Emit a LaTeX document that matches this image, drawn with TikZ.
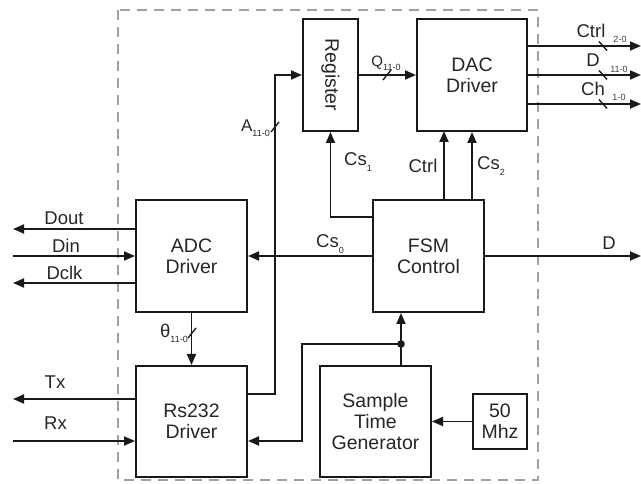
\documentclass[tikz,border=0pt]{standalone}
\usepackage{fontspec}
\setmainfont{Liberation Sans}
\usetikzlibrary{arrows.meta}
\definecolor{bordergray}{RGB}{155,163,170}
\newcommand\sbs[1]{\raisebox{-0.28em}{\fontsize{9}{9}\selectfont #1}}
\begin{document}
\begin{tikzpicture}[x=1pt,y=-1pt,
  blk/.style={draw=black!90, line width=2pt, inner sep=0pt, align=center,
    font=\fontsize{19.5}{21}\selectfont, text=black!85},
  arr/.style={line width=1.9pt, draw=black!90, -{Triangle[length=11pt,width=9pt]}},
  ln/.style={line width=1.9pt, draw=black!90},
  tick/.style={line width=1.4pt, draw=black!90},
  lab/.style={font=\fontsize{18.5}{20}\selectfont, text=black!85, inner sep=0pt},
  sub/.style={font=\fontsize{9}{10}\selectfont, text=black!75, inner sep=0pt},
  ]
\useasboundingbox (0,0) rectangle (641,484);
\draw[bordergray, line width=1.8pt, dash pattern=on 10pt off 7pt] (118,10) rectangle (538,480);

% blocks
\node[blk, minimum width=55pt, minimum height=112pt] (reg) at (330.5,75) {};
\node[lab, rotate=-90, font=\fontsize{19.5}{21}\selectfont] (regt) at (reg.center) {Register};
\node[blk, minimum width=110pt, minimum height=112pt] (dac) at (472,75) {DAC\\Driver};
\node[blk, minimum width=111pt, minimum height=112pt] (adc) at (191.5,256) {ADC\\Driver};
\node[blk, minimum width=111pt, minimum height=111pt] (rs) at (191.5,421.5) {Rs232\\Driver};
\node[blk, minimum width=111pt, minimum height=112pt] (fsm) at (428.5,256) {FSM\\Control};
\node[blk, minimum width=111pt, minimum height=111pt] (stg) at (375.5,421.5) {Sample\\Time\\Generator};
\node[blk, minimum width=54pt, minimum height=55pt] (mhz) at (500,421.5) {50\\Mhz};

% free ends
\coordinate (doutE) at (13,229);
\coordinate (dinS) at (13,256);
\coordinate (dclkE) at (13,283);
\coordinate (txE) at (13,399);
\coordinate (rxS) at (13,441);
\coordinate (dE) at (641,256);
\coordinate (c1E) at (641,46);
\coordinate (c2E) at (641,75);
\coordinate (c3E) at (641,104);
\coordinate (dot) at (401,344);

% left I/O
\draw[arr] (adc.west |- doutE) -- (doutE);
\draw[arr] (dinS) -- (adc.west);
\draw[arr] (adc.west |- dclkE) -- (dclkE);
\draw[arr] (rs.west |- txE) -- (txE);
\draw[arr] (rxS) -- (rs.west |- rxS);
\node[lab] (ldout) at (64,218.5) {Dout};
\node[lab] (ldin) at (66,246) {Din};
\node[lab] (ldclk) at (64.5,273) {Dclk};
\node[lab] (ltx) at (55,382) {Tx};
\node[lab] (lrx) at (55.5,423.5) {Rx};

% ADC -> Rs232
\draw[arr] (adc.south) -- (rs.north);
\draw[tick] (188,338) -- (196,328);
\node[lab, anchor=east] (lth) at (188,333) {θ\sbs{11-0}};

% Rs232 -> Register (A bus)
\draw[arr] (rs.east |- 0,394) -| (275,75) -- (reg.west);
\draw[tick] (271,132) -- (279,122);
\node[lab, anchor=east, font=\fontsize{17}{19}\selectfont] (la) at (270,128) {A\sbs{11-0}};

% Register -> DAC
\draw[arr] (reg.east) -- (dac.west);
\draw[tick] (383,80) -- (391,70);
\node[lab, font=\fontsize{15}{17}\selectfont] (lq) at (386,63) {Q\sbs{11-0}};

% FSM connections
\draw[arr] (fsm.west) -- (adc.east);
\node[lab] (lcs0) at (330,244) {Cs\sbs{0}};
\draw[arr] (fsm.west |- 0,217) -| (reg.south);
\node[lab] (lcs1) at (358,162) {Cs\sbs{1}};
\draw[arr] (444,200) -- (444,131);
\node[lab] (lctrl) at (423,166) {Ctrl};
\draw[arr] (fsm.north -| dac.south) -- (dac.south);
\node[lab] (lcs2) at (491,166) {Cs\sbs{2}};
\draw[arr] (fsm.east) -- (dE);
\node[lab] (ld) at (609,243) {D};

% DAC outputs
\draw[arr] (dac.east |- c1E) -- (c1E);
\draw[arr] (dac.east) -- (c2E);
\draw[arr] (dac.east |- c3E) -- (c3E);
\foreach \yy in {46,75,104} \draw[tick] (599,\yy-4.5) -- (607,\yy+4.5);
\node[lab] (lc1) at (591,30.5) {Ctrl};
\node[sub] (lc1s) at (620,39.5) {2-0};
\node[lab] (lc2) at (593,60) {D};
\node[sub] (lc2s) at (619,69) {11-0};
\node[lab] (lc3) at (593,88.5) {Ch};
\node[sub] (lc3s) at (619,97) {1-0};

% sample time generator
\draw[arr] (stg.north -| dot) -- (fsm.south -| dot);
\draw[arr] (dot) -- (302,344) |- (rs.east |- rxS);
\fill[black!90] (dot) circle (3.8pt);
\draw[arr] (mhz.west) -- (stg.east);
\end{tikzpicture}
\end{document}
